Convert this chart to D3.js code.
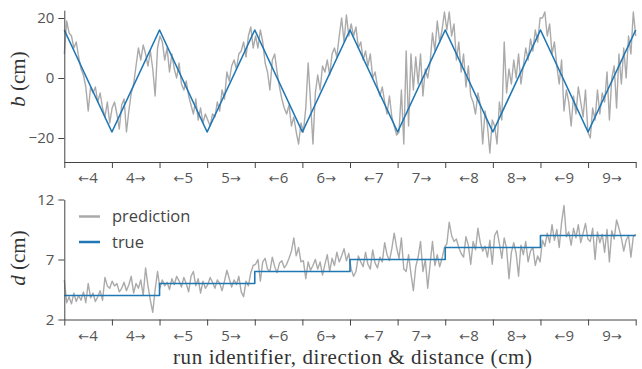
<!DOCTYPE html>
<html>
<head>
<meta charset="utf-8">
<script src="https://cdn.jsdelivr.net/npm/d3@7/dist/d3.min.js"></script>
<style>
  html, body { margin: 0; padding: 0; background: #fff; }
  svg { display: block; }
  .tick text { font-family: "Open Sans", "Noto Sans", sans-serif; fill: #555; }
</style>
</head>
<body>
<script>
// ---------- DATA ----------
const segments = ["←4","4→","←5","5→","←6","6→","←7","7→","←8","8→","←9","9→"];
const bTicks = [-20, 0, 20];
const dTicks = [2, 7, 12];
// true b at run boundaries (triangle wave)
const trueB = [16,-18,16,-18,16,-18,16,-18,16,-18,16,-18,16];
// true d per run segment
const trueD = [4,4,5,5,6,6,7,7,8,8,9,9];
// predicted b (20 samples per segment)
const predB = [
  8,19,15,14,10,12,7,3,1,-3,-11,-3,-5,-3,-8,-5,-10,-13,-8,-15,
  -10,-8,-12,-17,-9,-7,-18,-11,-5,-2,4,10,6,11,8,4,9,3,-6,10,
  14,12,6,10,2,8,3,0,5,-2,-4,-1,-6,-9,-12,-7,-14,-10,-15,-12,
  -14,-16,-12,-13,-8,-11,-4,-7,2,-1,4,6,3,8,9,12,7,14,17,10,
  14,10,16,12,5,2,-4,6,8,2,-3,-7,-10,-12,-9,-16,-13,-18,-22,-15,
  -18,-10,5,-8,-22,-5,1,-4,4,2,6,1,8,10,7,14,20,12,21,14,
  18,14,17,10,12,6,9,4,8,0,2,-3,-6,-3,-8,-12,-6,-13,-16,-19,
  -18,-4,-22,9,-16,8,-4,7,-2,8,-6,3,0,5,15,9,19,12,16,22,
  16,22,14,18,6,12,2,8,-3,4,-6,-8,-12,-5,-9,-22,-11,-16,-25,-14,
  -16,-22,-8,-14,12,-5,3,-2,6,0,8,-2,4,10,6,13,9,16,12,20,
  20,22,14,18,8,12,4,-2,6,-11,-4,-8,-16,-6,-12,-3,-8,-13,-4,-18,
  -20,-10,-14,-4,-12,-5,-8,2,-14,0,4,-10,8,-2,10,0,14,8,22,14
];
// predicted d (20 samples per segment)
const predD = [
  5.3,3.4,3.9,3.3,4.2,3.5,4.0,3.6,4.3,3.4,5.0,3.8,4.2,3.5,3.9,4.4,3.6,5.5,4.8,4.6,
  5.2,4.8,5.0,4.3,4.6,5.1,4.4,4.9,5.6,4.2,5.0,4.6,5.3,4.0,6.3,4.8,3.6,2.6,4.5,6.0,
  4.6,5.3,4.8,5.1,4.5,5.4,4.9,5.6,5.2,4.7,5.5,5.0,4.3,5.6,6.0,4.8,5.4,4.2,5.2,4.6,
  4.9,5.5,5.1,4.6,5.3,5.0,4.4,5.2,6.1,5.4,4.7,5.3,4.9,5.6,4.3,3.9,5.2,4.8,5.9,6.5,
  6.6,7.0,5.2,6.8,7.1,6.2,6.0,7.2,6.4,5.9,6.7,6.9,6.3,6.6,7.1,7.7,8.8,7.3,8.0,6.8,
  6.9,5.4,6.8,6.1,6.5,7.0,6.2,6.8,5.7,6.6,7.4,6.0,7.1,6.5,7.6,6.8,7.3,7.9,6.9,7.5,
  6.2,5.6,6.0,7.3,6.8,6.4,7.6,6.6,6.2,7.8,6.7,6.3,7.2,6.8,8.4,7.4,6.9,7.9,9.2,8.0,
  7.1,8.8,6.2,6.0,7.4,5.8,4.4,6.4,7.2,8.5,6.0,7.0,4.6,6.6,8.5,6.5,7.4,6.4,7.1,8.0,
  8.3,10.1,9.0,8.5,8.7,8.0,7.5,7.2,8.9,8.2,6.6,8.5,7.8,9.6,8.4,7.7,8.1,7.2,8.6,6.6,
  9.0,9.4,8.3,7.1,8.8,7.9,5.4,7.6,8.4,7.5,5.6,8.2,7.4,8.5,6.8,7.7,8.0,6.5,7.3,6.8,
  8.6,8.1,9.2,8.4,9.9,8.6,9.5,8.0,10.1,11.5,8.9,9.3,8.2,9.6,8.8,9.9,8.4,9.2,10.0,8.7,
  8.5,9.6,7.0,9.3,8.4,9.1,7.6,9.5,6.8,9.4,8.7,10.3,9.6,8.8,7.7,8.6,9.0,7.2,8.9,9.1
];
const legendLabels = ["prediction", "true"];

// ---------- STYLE ----------
const W = 642, H = 369;
const predColor = "#aaaaaa", trueColor = "#1f77b4", axisColor = "#444";
const sansFont = '"Open Sans", "Noto Sans", sans-serif';
const serifFont = '"Liberation Serif", "DejaVu Serif", serif';

const svg = d3.select("body").append("svg").attr("width", W).attr("height", H);

const x = d3.scaleLinear().domain([0, segments.length]).range([64.3, 635.7]);
const xPred = i => x(i * segments.length / (predB.length - 1));

const yB = d3.scaleLinear().domain([-28, 22.6]).range([162, 10.2]);
const yD = d3.scaleLinear().domain([2, 12]).range([319.5, 199.5]);

function addSegLabel(sel, label) {
  // split into arrow / digit parts so the arrows use a font that has them
  const parts = label.match(/[←→]|[^←→]+/g);
  parts.forEach(p => {
    const t = sel.append("tspan").text(p);
    if (p === "←" || p === "→") {
      t.style("font-family", '"DejaVu Sans", sans-serif').style("font-size", "13px");
    }
  });
}

function drawPanel(y, ticks, pred, trueLinePts, curve, axisY) {
  const g = svg.append("g");
  g.append("path")
    .datum(pred)
    .attr("fill", "none").attr("stroke", predColor).attr("stroke-width", 1.4)
    .attr("stroke-linejoin", "round")
    .attr("d", d3.line().x((d, i) => xPred(i)).y(d => y(d)));
  g.append("path")
    .datum(trueLinePts)
    .attr("fill", "none").attr("stroke", trueColor).attr("stroke-width", 1.6)
    .attr("stroke-linejoin", "round")
    .attr("d", d3.line().curve(curve).x(d => x(d[0])).y(d => y(d[1])));

  const ya = g.append("g").attr("transform", `translate(${x(0)},0)`)
    .call(d3.axisLeft(y).tickValues(ticks).tickSize(6).tickSizeOuter(0).tickPadding(4)
      .tickFormat(d3.format("d")));
  ya.selectAll("text").style("font-size", "15px");
  ya.selectAll("path,line").attr("stroke", axisColor);

  const xa = g.append("g").attr("transform", `translate(0,${axisY})`)
    .call(d3.axisBottom(x).tickValues(d3.range(segments.length + 1)).tickSize(6).tickSizeOuter(0)
      .tickFormat(""));
  xa.selectAll("path,line").attr("stroke", axisColor);
  xa.selectAll(".lbl").data(segments).enter().append("text")
    .attr("class", "lbl")
    .attr("x", (d, i) => x(i + 0.5)).attr("y", 21)
    .attr("text-anchor", "middle")
    .style("font-family", sansFont)
    .style("font-size", "15px").attr("fill", "#555")
    .each(function(d) { addSegLabel(d3.select(this), d); });
  return g;
}

const trueBPts = trueB.map((v, i) => [i, v]);
const trueDPts = trueD.map((v, i) => [i, v]).concat([[segments.length, trueD[trueD.length - 1]]]);

drawPanel(yB, bTicks, predB, trueBPts, d3.curveLinear, 162);
drawPanel(yD, dTicks, predD, trueDPts, d3.curveStepAfter, 319.5);

function yTitle(letter, cx, cy) {
  const t = svg.append("text")
    .attr("transform", `translate(${cx},${cy}) rotate(-90)`)
    .attr("text-anchor", "middle")
    .style("font-family", serifFont)
    .style("font-size", "21px").attr("fill", "#333");
  t.append("tspan").style("font-style", "italic").text(letter);
  t.append("tspan").text(" (cm)");
}
yTitle("b", 25, 79);
yTitle("d", 25, 258);

svg.append("text")
  .attr("x", 352.5).attr("y", 364)
  .attr("text-anchor", "middle")
  .attr("textLength", 359).attr("lengthAdjust", "spacing")
  .style("font-family", serifFont)
  .style("font-size", "21px").attr("fill", "#333")
  .text("run identifier, direction & distance (cm)");

const legColors = [predColor, trueColor];
const leg = svg.append("g");
legendLabels.forEach((lab, i) => {
  const yy = 216.5 + i * 25.5;
  leg.append("line").attr("x1", 79).attr("x2", 100).attr("y1", yy).attr("y2", yy)
    .attr("stroke", legColors[i]).attr("stroke-width", 2.5);
  leg.append("text").attr("x", 112).attr("y", yy + 5.5)
    .style("font-family", sansFont)
    .style("font-size", "16.5px").attr("fill", "#444").text(lab);
});
</script>
</body>
</html>
